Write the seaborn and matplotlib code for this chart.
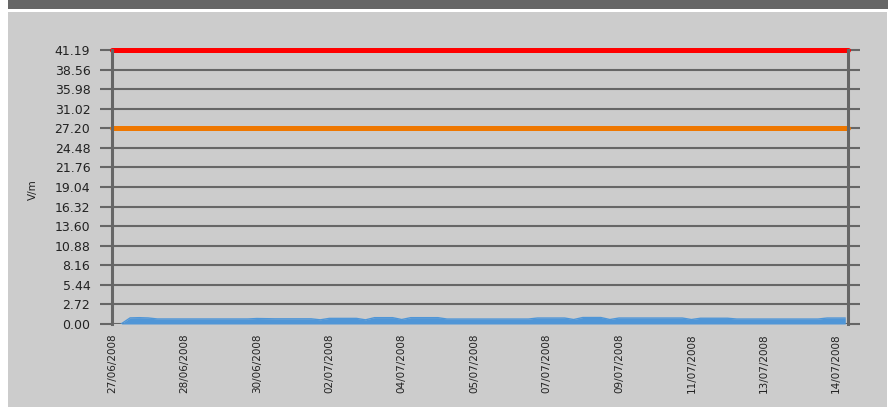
import numpy as np
import pandas as pd
import seaborn as sns
import matplotlib.pyplot as plt
from matplotlib.patches import Rectangle

# valores do eixo y (rotulos com espaçamento igual no gráfico)
y_ticks = [0.00, 2.72, 5.44, 8.16, 10.88, 13.60, 16.32, 19.04, 21.76,
           24.48, 27.20, 31.02, 35.98, 38.56, 41.19]
# rotulos de data do eixo x (um a cada 8 amostras)
datas = ['27/06/2008', '28/06/2008', '30/06/2008', '02/07/2008', '04/07/2008',
         '05/07/2008', '07/07/2008', '09/07/2008', '11/07/2008', '13/07/2008',
         '14/07/2008']
amostras_por_rotulo = 8
# limites de referencia
limite_vermelho = 41.19
limite_laranja = 27.20
# medições em V/m (amostras 1..81)
medicoes = [0.0, 0.85, 0.88, 0.84,
            0.70, 0.70, 0.70, 0.70, 0.70, 0.70, 0.70, 0.70, 0.70, 0.70, 0.70,
            0.76, 0.74, 0.72, 0.72, 0.72, 0.72, 0.72, 0.58,
            0.78, 0.78, 0.78, 0.78, 0.58, 0.88, 0.88, 0.88, 0.62,
            0.88, 0.88, 0.88, 0.88,
            0.69, 0.69, 0.69, 0.69, 0.69, 0.69, 0.69, 0.69, 0.69, 0.69,
            0.83, 0.83, 0.83, 0.83, 0.62, 0.90, 0.90, 0.90, 0.62,
            0.83, 0.83, 0.83, 0.83, 0.83, 0.83, 0.83, 0.83, 0.62,
            0.80, 0.80, 0.80, 0.80,
            0.69, 0.69, 0.69, 0.69, 0.69, 0.69, 0.69, 0.69, 0.69, 0.69,
            0.83, 0.83, 0.83]

df = pd.DataFrame({'amostra': np.arange(1, len(medicoes) + 1), 'valor': medicoes})

sns.set_theme(style='white')
plt.rcParams['font.family'] = ['DejaVu Sans']

cinza = '#666666'
fig = plt.figure(figsize=(8.9, 4.07), dpi=100, facecolor='white')
# painel cinza e faixa escura no topo
fig.patches.append(Rectangle((8 / 890, 0), 879 / 890, 395 / 407, transform=fig.transFigure,
                             facecolor='#cccccc', edgecolor='none', zorder=-10))
fig.patches.append(Rectangle((8 / 890, 398 / 407), 880 / 890, 9 / 407, transform=fig.transFigure,
                             facecolor=cinza, edgecolor='none', zorder=-10))

ax = fig.add_axes([112 / 890, 83 / 407, 736 / 890, 274 / 407])
ax.set_facecolor('none')

# escala por partes: cada rotulo fica na mesma distancia
idx = np.arange(len(y_ticks))
def fwd(v):
    return np.interp(v, y_ticks, idx)
def inv(p):
    return np.interp(p, idx, y_ticks)
ax.set_yscale('function', functions=(fwd, inv))

ax.fill_between(df['amostra'], 0, df['valor'], color='#5096d7', lw=0, zorder=3)
sns.lineplot(data=df, x='amostra', y='valor', color='#5096d7', lw=1, ax=ax, zorder=3)
ax.axhline(limite_vermelho, color='#ff0000', lw=3.6, zorder=4, clip_on=False)
ax.axhline(limite_laranja, color='#ee7700', lw=3.6, zorder=4, clip_on=False)

ax.set_ylim(0, limite_vermelho)
ax.set_xlim(0, 81.3)
ax.set_yticks(y_ticks)
ax.set_yticklabels([f'{v:.2f}' for v in y_ticks])
ax.set_xticks(np.arange(len(datas)) * amostras_por_rotulo)
ax.set_xticklabels(datas, rotation=90)

ax.grid(axis='y', color=cinza, lw=1.5, zorder=1)
ax.grid(axis='x', visible=False)
for lado in ['top', 'bottom']:
    ax.spines[lado].set_visible(False)
for lado in ['left', 'right']:
    ax.spines[lado].set_color(cinza)
    ax.spines[lado].set_linewidth(2.2)
    ax.spines[lado].set_zorder(5)

ax.tick_params(axis='y', left=True, right=True, direction='out', length=8.6, width=1.5,
               color=cinza, labelsize=9, labelcolor='#222222', pad=7)
ax.tick_params(axis='x', bottom=True, length=0, labelsize=7.5, labelcolor='#222222', pad=6.5)

ax.set_xlabel('')
ax.set_ylabel('V/m', fontsize=7.5, color='#222222')
ax.yaxis.set_label_coords(-0.1, 0.49)

plt.savefig('out.png', dpi=100, facecolor='white')
plt.close()
